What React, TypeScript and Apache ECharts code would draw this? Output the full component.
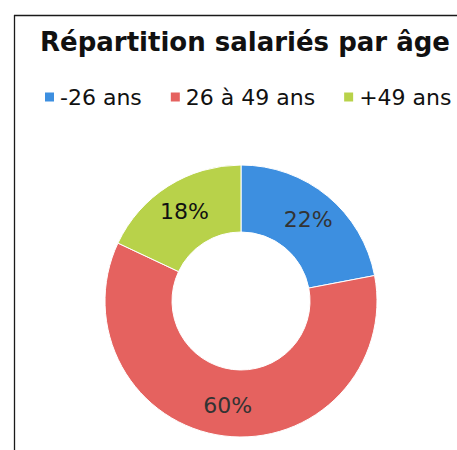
import React, { useEffect, useRef } from "react";
import * as echarts from "echarts";

const categories = ["-26 ans", "26 à 49 ans", "+49 ans"];
const values = [22, 60, 18];
const colors = ["#3d8fe0", "#e5625f", "#b8d24a"];
const labelColors = ["#333333", "#333333", "#111111"];
const titleText = "Répartition salariés par âge";

export default function App() {
  const ref = useRef<HTMLDivElement>(null);
  useEffect(() => {
    if (!ref.current) return;
    const chart = echarts.init(ref.current, null, { renderer: "svg" });
    chart.setOption({
      animation: false,
      backgroundColor: "#ffffff",
      title: {
        text: titleText,
        left: 240,
        textAlign: "center",
        top: 24,
        textStyle: {
          fontFamily: "DejaVu Sans",
          fontWeight: "bold",
          fontSize: 26,
          color: "#111111",
        },
      },
      legend: {
        top: 81,
        left: 38,
        itemWidth: 11,
        itemHeight: 11,
        itemGap: 27,
        icon: "rect",
        textStyle: {
          fontFamily: "DejaVu Sans",
          fontSize: 22,
          color: "#111111",
          padding: [0, 0, 0, 0],
        },
        data: categories,
      },
      graphic: [
        {
          type: "line",
          shape: { x1: 14.5, y1: 15, x2: 14.5, y2: 450 },
          style: { stroke: "#1a1a1a", lineWidth: 1.3 },
        },
        {
          type: "line",
          shape: { x1: 14, y1: 15.5, x2: 457, y2: 15.5 },
          style: { stroke: "#1a1a1a", lineWidth: 1.3 },
        },
      ],
      series: [
        {
          type: "pie",
          center: [241, 301],
          radius: [69, 136],
          startAngle: 90,
          clockwise: true,
          avoidLabelOverlap: false,
          label: {
            show: true,
            position: "inside",
            formatter: "{c}%",
            fontFamily: "DejaVu Sans",
            fontSize: 22,
          },
          labelLine: { show: false },
          itemStyle: { borderColor: "#ffffff", borderWidth: 1 },
          emphasis: { disabled: true },
          data: categories.map((name, i) => ({
            name,
            value: values[i],
            itemStyle: { color: colors[i] },
            label: { color: labelColors[i] },
          })),
        },
      ],
    });
    return () => chart.dispose();
  }, []);
  return (
    <div
      ref={ref}
      style={{ position: "absolute", left: 0, top: 0, width: 457, height: 450 }}
    />
  );
}
